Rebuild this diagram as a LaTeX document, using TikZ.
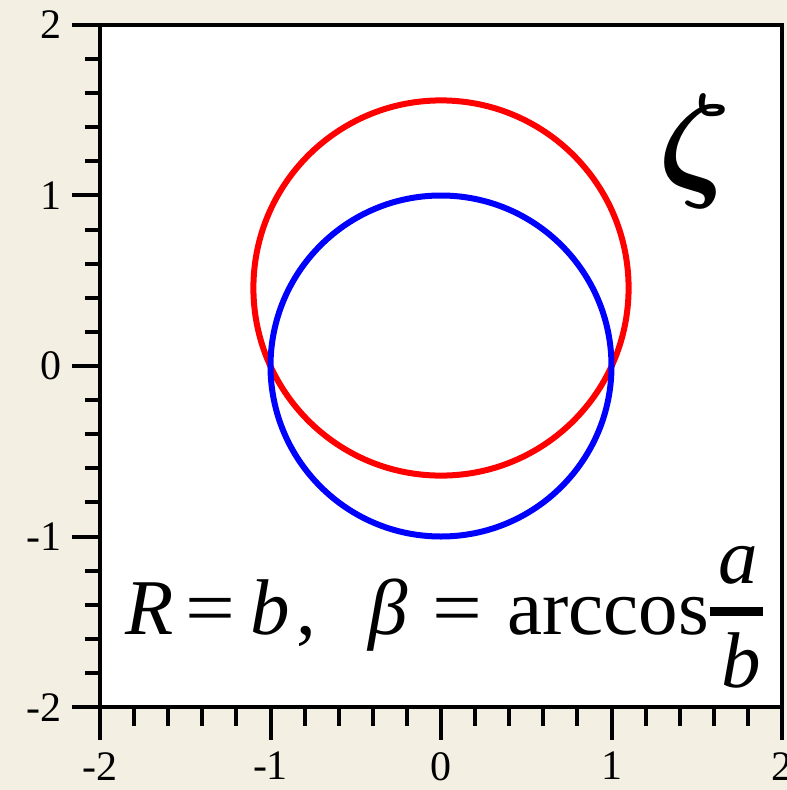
\documentclass[tikz,border=0pt]{standalone}
\usepackage{fontspec}
\setmainfont{Liberation Serif}[ItalicFont={Liberation Serif Italic}]
\newcommand{\myboldzeta}{\mbox{\boldmath$\zeta$}}
\definecolor{paper}{HTML}{F3F0E3}
\definecolor{cred}{HTML}{FF0000}
\definecolor{cblue}{HTML}{0000FF}
\begin{document}
\begin{tikzpicture}[x=1pt,y=-1pt,
  axisline/.style={line width=4.5pt},
  tickline/.style={line width=4pt},
  lab/.style={font=\fontsize{42}{46}\selectfont, inner sep=0pt},
  fml/.style={font=\fontsize{79}{84}\selectfont, inner sep=0pt},
  eqsign/.style={fml, xscale=1.12},
  curve/.style={line width=6pt}]
\useasboundingbox (0,0) rectangle (787,790);
\fill[paper] (0,0) rectangle (787,790);
\fill[white] (100,25) rectangle (782,707);
% circles
\draw[curve, cred] (441,288) circle[radius=187.6pt];
\draw[curve, cblue] (441,366) circle[radius=170.5pt];
% frame
\draw[axisline] (100,25) rectangle (782,707);
% y ticks
\foreach \k in {-10,...,10} {
  \pgfmathsetmacro{\yy}{366-\k*34.12}
  \draw[tickline] (100,\yy) -- (85,\yy);
}
\foreach \k in {-2,...,2} {
  \pgfmathsetmacro{\yy}{366-\k*170.6}
  \draw[tickline] (100,\yy) -- (72,\yy);
}
% x ticks
\foreach \k in {-10,...,10} {
  \pgfmathsetmacro{\xx}{441+\k*34.1}
  \draw[tickline] (\xx,707) -- (\xx,726);
}
\foreach \k in {-2,...,2} {
  \pgfmathsetmacro{\xx}{441+\k*170.5}
  \draw[tickline] (\xx,707) -- (\xx,740);
}
% labels
\foreach \v/\t [count=\i] in {2/2,1/1,0/0,-1/-1,-2/-2} {
  \node[lab, anchor=east] (yl\i) at (62, 366-\v*170.6) {\t};
}
\foreach \v/\t [count=\i] in {-2/-2,-1/-1,0/0,1/1,2/2} {
  \node[lab, anchor=north] (xl\i) at (441+\v*170.5, 752) {\t};
}
% zeta
\node[scale=12.8, inner sep=0pt] (zeta) at (695,151) {\myboldzeta};
% formula
\node[fml, anchor=base west] (fR) at (125,634) {\textit{R}};
\node[eqsign, anchor=base west] (feq1) at (185,634) {=};
\node[fml, anchor=base west] (fb) at (250,634) {\textit{b}};
\node[fml, anchor=base west] (fcomma) at (296,634) {,};
\node[fml, anchor=base west] (fbeta) at (368,634) {\textit{β}};
\node[eqsign, anchor=base west] (feq2) at (432,634) {=};
\node[fml, anchor=base east] (farc) at (709,634) {arccos};
\node[fml, anchor=base] (fa) at (738,583) {\textit{a}};
\node[fml, anchor=base] (fden) at (741,687) {\textit{b}};
\draw[line width=9pt] (710,611.5) -- (763,611.5);
\end{tikzpicture}
\end{document}
